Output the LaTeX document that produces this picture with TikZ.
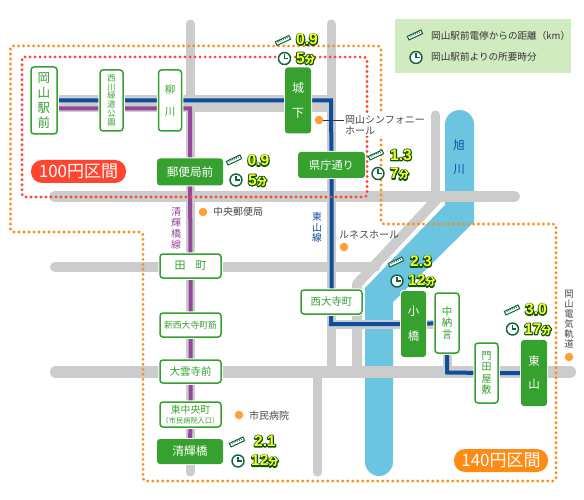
\documentclass[tikz,border=0pt]{standalone}
\usepackage{fontspec}
\setmainfont{Noto Sans CJK JP}
\newfontfamily\numfont{Liberation Sans}
\definecolor{road}{HTML}{CCCCCC}
\definecolor{river}{HTML}{6CC5E0}
\definecolor{grn}{HTML}{36A12E}
\definecolor{dkgrn}{HTML}{12633A}
\definecolor{bluel}{HTML}{0B4F9E}
\definecolor{purp}{HTML}{94489C}
\definecolor{redd}{HTML}{FF4530}
\definecolor{orng}{HTML}{FF8A14}
\definecolor{poi}{HTML}{FF9F35}
\definecolor{legendbg}{HTML}{CFEBBF}
\definecolor{yel}{HTML}{FFFF1E}
\pgfdeclarelayer{bg}
\pgfsetlayers{bg,main}
\newcommand{\fs}[2]{\fontsize{#1pt}{#2pt}\selectfont}
\newcommand{\outl}[1]{\special{pdf:code q 2 Tr 2.2 w 1 j 0.03 0.33 0.1 RG}#1\special{pdf:code Q}}
\newcommand{\numtxt}[1]{\numfont\bfseries\fontsize{15.5pt}{16pt}\selectfont\rlap{\outl{#1}}#1}
\newcommand{\fen}{{\rmfamily\bfseries\fontsize{10pt}{10pt}\selectfont 分}}
\tikzset{
  x=1pt,y=-1pt,
  roadline/.style={draw=road,line width=#1,line cap=round},
  roadline/.default=9pt,
  whitest/.style={rectangle,draw=grn,line width=1.5pt,fill=white,rounded corners=3pt,text=grn,inner sep=0pt,align=center,
     preaction={draw=white,line width=3.5pt}},
  greenst/.style={rectangle,fill=grn,rounded corners=3pt,text=white,inner sep=0pt,align=center,
     preaction={draw=white,line width=2pt}},
  sz/.style 2 args={minimum width=#1pt,minimum height=#2pt},
  blueline/.style={draw=bluel,line width=4pt,line join=miter},
  purpline/.style={draw=purp,line width=4pt,line join=miter},
  dots/.style={line width=3pt,line cap=round,dash pattern=on 0.2pt off 4.8pt,rounded corners=3pt},
  number/.style={text=yel,inner sep=0pt,anchor=west},
  poilabel/.style={text=black!72,inner sep=0pt,font=\fs{10}{11.5},align=left,anchor=west},
  poidot/.style={circle,fill=poi,minimum size=8.5pt,inner sep=0pt},
  pill/.style={rectangle,rounded corners=11pt,text=white,inner sep=0pt,font=\fs{17}{17}},
}
\newcommand{\ruler}[2]{%
  \begin{scope}[shift={(#1,#2)},rotate=25]
    \draw[dkgrn,fill=white,line width=1pt] (-7.5,-2) rectangle (7.5,2);
    \foreach \k in {-5,-3,...,5} \draw[dkgrn,line width=.6pt] (\k,-2) -- (\k,0);
  \end{scope}}
\newcommand{\clock}[2]{%
  \begin{scope}[shift={(#1,#2)}]
    \draw[dkgrn,fill=white,line width=1.4pt] (0,0) circle (6);
    \draw[dkgrn,line width=1.2pt] (0,-4) -- (0,0) -- (3.5,0);
  \end{scope}}
\begin{document}
\begin{tikzpicture}
\useasboundingbox (0,0) rectangle (584,500);
% stations
\node[whitest,sz={26}{67},font=\fs{12.5}{15}] (okayama) at (44,100.5) {岡\\山\\駅\\前};
\node[whitest,sz={23}{61},font=\fs{8.2}{8.8}] (nishi) at (111.5,100.5) {西\\川\\緑\\道\\公\\園};
\node[whitest,sz={23}{61},font=\fs{10.5}{22}] (yanagi) at (170,100.5) {柳\\川};
\node[greenst,sz={26}{66},font=\fs{12}{25}] (shiro) at (298,100.5) {城\\下};
\node[greenst,sz={66}{27},font=\fs{11.6}{13}] (yubin) at (190,172) {郵便局前};
\node[greenst,sz={67}{26},font=\fs{11.2}{13}] (kencho) at (331.5,165) {県庁通り};
\node[whitest,sz={61}{24},font=\fs{11}{13}] (dencho) at (190.5,266) {田\hspace{10pt}町};
\node[whitest,sz={61}{24},font=\fs{8.8}{11}] (shinsai) at (190.5,325) {新西大寺町筋};
\node[whitest,sz={61}{23},font=\fs{10.5}{13}] (daiun) at (190.5,371.5) {大雲寺前};
\node[whitest,sz={61}{25},font=\fs{9.8}{10}] (higashi) at (190.5,414.5) {東中央町\\[-0.5pt]{\fs{7.2}{8}（市民病院入口）}};
\node[greenst,sz={66}{25},font=\fs{11.7}{13}] (seiki) at (190,451.5) {清輝橋};
\node[whitest,sz={61}{24},font=\fs{10.4}{13}] (saidaiji) at (331.5,302) {西大寺町};
\node[greenst,sz={25}{66},font=\fs{11.5}{25}] (kobashi) at (413.5,324) {小\\橋};
\node[whitest,sz={24}{60},font=\fs{10.5}{11.7}] (chunagon) at (447,323) {中\\納\\言};
\node[whitest,sz={23}{60},font=\fs{10}{11.2}] (monden) at (486.5,373) {門\\田\\屋\\敷};
\node[greenst,sz={26}{66},font=\fs{11.5}{23}] (higashiyama) at (534,373) {東\\山};
% junction coordinates
\coordinate (bc1) at (331,100.5);
\coordinate (bc2) at (331,324);
\coordinate (bc3) at (447,372.5);
\coordinate (pc0) at (57,108.5);
\coordinate (pc1) at (190,108.5);
\begin{pgfonlayer}{bg}
  \fill[white] (0,0) rectangle (584,500);
  % river
  \fill[river] (445,124.5) arc[start angle=180,end angle=360,radius=14.5] -- (474,222) -- (393,302) -- (393,462)
     arc[start angle=0,end angle=180,radius=14] -- (365,288) -- (445,205) -- cycle;
  % roads
  \fill[road] (57,95) rectangle (331,112);
  \draw[roadline] (190,24) -- (190,472);
  \draw[roadline] (331,24) -- (331,372);
  \draw[roadline] (317,372) -- (317,472);
  \draw[roadline] (435.5,115) -- (435.5,197);
  \draw[roadline=11pt] (54.5,196.5) -- (514.5,196.5);
  \draw[roadline=10pt] (55,267) -- (375,267);
  \draw[roadline=12pt] (56,372) -- (570,372);
  \draw[draw=road,line width=10pt,line join=bevel] (438,198) -- (357,284) -- (357,372);
  \draw[draw=road,line width=9pt] (331,324) -- (447,324) -- (447,372);
  % tram lines
  \draw[blueline] (okayama) -- (nishi) -- (yanagi) -- (shiro) -- (bc1) -- (kencho) -- (saidaiji) -- (bc2) -- (kobashi) -- (chunagon) -- (bc3) -- (monden) -- (higashiyama);
  \draw[purpline] (pc0) -- (pc1) -- (yubin) -- (dencho) -- (shinsai) -- (daiun) -- (higashi) -- (seiki);
  % fare zones
  \draw[dots,draw=orng] (10.5,46) -- (381,46) -- (381,224) -- (556,224) -- (556,481) -- (143,481) -- (143,232) -- (10.5,232) -- cycle;
  \draw[dots,draw=redd] (22,57) -- (367,57) -- (367,197) -- (22,197) -- cycle;
\end{pgfonlayer}
% legend
\node[rectangle,fill=legendbg,minimum width=176pt,minimum height=54pt,inner sep=0pt] (legend) at (483,46) {};
\node[inner sep=0pt,anchor=west,text=black!80,font=\fs{9.6}{11}] (legkm) at (431,35.5) {岡山駅前電停からの距離（km）};
\node[inner sep=0pt,anchor=west,text=black!80,font=\fs{9.6}{11}] (legmin) at (431,57) {岡山駅前よりの所要時分};
\ruler{415}{35}
\clock{416}{57.5}
% fare badges
\node[pill,fill=redd,minimum width=95pt,minimum height=23pt] (b100) at (78.5,171.5) {100円区間};
\node[pill,fill=orng,minimum width=94pt,minimum height=23pt] (b140) at (501,460.5) {140円区間};
% points of interest
\node[poidot] (hall) at (319,120) {};
\node[poilabel,fill=white,inner sep=1pt] (halltxt) at (344,125) {岡山シンフォニー\\ホール};
\draw[black!80,line width=.7pt] (hall) -- (halltxt.west |- hall);
\node[poidot] (post) at (203,212) {};
\node[poilabel] (posttxt) at (213,212) {中央郵便局};
\node[poidot] (lunes) at (344,247) {};
\node[poilabel] (lunestxt) at (339,235) {ルネスホール};
\node[poidot] (hosp) at (239,415) {};
\node[poilabel] (hosptxt) at (249,415.5) {市民病院};
\node[poidot] (rail) at (569,357) {};
\node[inner sep=0pt,text=black!72,font=\fs{9.3}{9.9},align=center] (railtxt) at (569,319) {岡\\山\\電\\気\\軌\\道};
% line and river names
\node[inner sep=0pt,text=purp,font=\fs{10}{11},align=center] (purptxt) at (176,228.5) {清\\輝\\橋\\線};
\node[inner sep=0pt,text=bluel,font=\fs{9.8}{10.5},align=center] (bluetxt) at (317,227.5) {東\\山\\線};
\node[inner sep=0pt,text=bluel,font=\fs{11.5}{24},align=center] (rivertxt) at (459,157.5) {旭\\川};
% distances and times
\ruler{283}{40.5}\clock{284.5}{58.5}
\node[number] (d1) at (296,39.5) {\numtxt{0.9}};
\node[number] (t1) at (296,58.5) {\numtxt{5\fen}};
\ruler{234}{160}\clock{236}{180}
\node[number] (d2) at (247.5,160.5) {\numtxt{0.9}};
\node[number] (t2) at (248,180.5) {\numtxt{5\fen}};
\ruler{376}{155}\clock{378}{173.5}
\node[number] (d3) at (390,155) {\numtxt{1.3}};
\node[number] (t3) at (390,174) {\numtxt{7\fen}};
\ruler{396}{262}\clock{397}{281}
\node[number] (d4) at (410,261.5) {\numtxt{2.3}};
\node[number] (t4) at (408,281) {\numtxt{12\fen}};
\ruler{512}{310}\clock{512.5}{329}
\node[number] (d5) at (525,309.5) {\numtxt{3.0}};
\node[number] (t5) at (524,329.5) {\numtxt{17\fen}};
\ruler{237}{442}\clock{238}{461}
\node[number] (d6) at (254,441) {\numtxt{2.1}};
\node[number] (t6) at (251,461) {\numtxt{12\fen}};
\end{tikzpicture}
\end{document}
